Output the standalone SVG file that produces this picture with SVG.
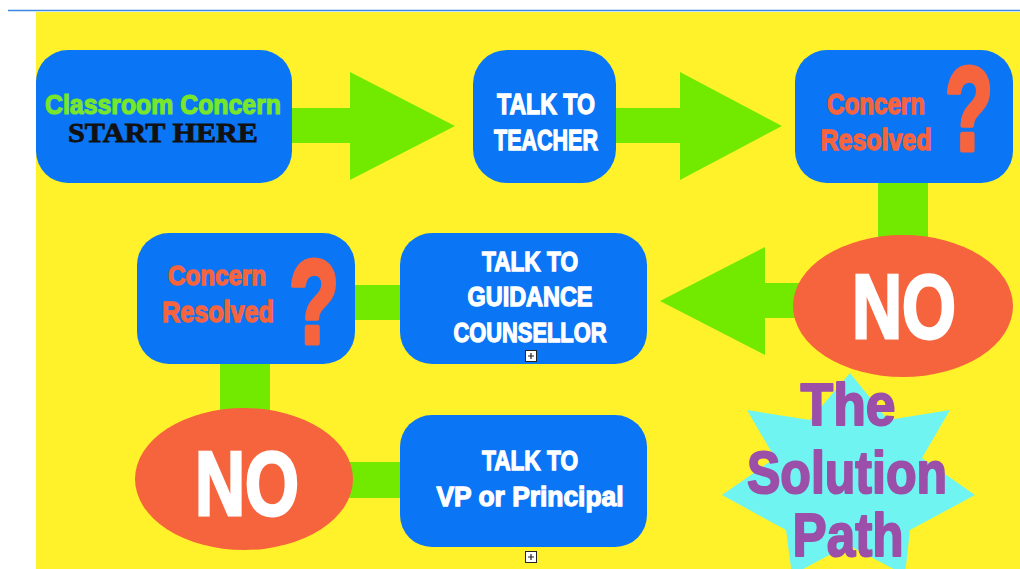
<svg xmlns="http://www.w3.org/2000/svg" width="1020" height="569" viewBox="0 0 1020 569">
<defs>
<style>
.box{fill:#0a75f5}
.oval{fill:#f6643d}
.conn{fill:#72ea00}
.w{fill:#ffffff;stroke:#ffffff;stroke-width:1.3;font-family:"Liberation Sans Narrow","Liberation Sans",sans-serif;font-weight:bold;text-anchor:middle}
.c{fill:#f6643d;stroke:#f6643d;stroke-width:1.3;font-family:"Liberation Sans Narrow","Liberation Sans",sans-serif;font-weight:bold;text-anchor:middle}
.q{fill:#f6643d;stroke:#f6643d;stroke-width:5;stroke-linejoin:round;font-family:"Liberation Sans","DejaVu Sans",sans-serif;font-weight:bold;text-anchor:middle}
.no{fill:#ffffff;stroke:#ffffff;stroke-width:3;font-family:"Liberation Sans","DejaVu Sans",sans-serif;font-weight:bold;text-anchor:middle}
.t{fill:#9b4fa9;stroke:#9b4fa9;stroke-width:2;stroke-linejoin:round;font-family:"Liberation Sans","DejaVu Sans",sans-serif;font-weight:bold;text-anchor:middle}
.icon rect{fill:#ffffff;stroke:#222222;stroke-width:1}
.icon path{stroke:#222222;stroke-width:1.2;fill:none}
</style>
</defs>
<rect x="0" y="0" width="1020" height="569" fill="#ffffff"/>
<rect x="36" y="12" width="984" height="557" fill="#fff22a"/>
<line x1="8" y1="10.5" x2="1020" y2="10.5" stroke="#3a86e0" stroke-width="1.5"/>

<g id="connectors">
<rect class="conn" x="288" y="108" width="64" height="35"/>
<polygon class="conn" points="350,72 455,126 350,180"/>
<rect class="conn" x="612" y="108" width="70" height="35"/>
<polygon class="conn" points="680,72 782,126 680,180"/>
<rect class="conn" x="878" y="178" width="50" height="66"/>
<rect class="conn" x="763" y="283" width="40" height="35"/>
<polygon class="conn" points="765,247 660,301 765,355"/>
<rect class="conn" x="350" y="285" width="54" height="35"/>
<rect class="conn" x="220" y="360" width="50" height="54"/>
<rect class="conn" x="348" y="462" width="56" height="36"/>
</g>

<g id="node-start">
<rect class="box" x="36" y="50" width="256" height="133" rx="32"/>
<text x="163" y="114" textLength="236" lengthAdjust="spacingAndGlyphs" style="fill:#78e62a;stroke:#78e62a;stroke-width:1.2;font-family:'Liberation Sans Narrow','Liberation Sans',sans-serif;font-weight:bold;font-size:27px;text-anchor:middle">Classroom Concern</text>
<text x="163" y="142" textLength="190" lengthAdjust="spacingAndGlyphs" style="fill:#111111;stroke:#111111;stroke-width:0.8;font-family:'Liberation Serif',serif;font-weight:bold;font-size:28px;text-anchor:middle">START HERE</text>
</g>

<g id="node-teacher">
<rect class="box" x="473" y="50" width="143" height="133" rx="34"/>
<text class="w" x="546" y="114" font-size="29" textLength="98" lengthAdjust="spacingAndGlyphs">TALK TO</text>
<text class="w" x="546" y="150" font-size="29" textLength="104" lengthAdjust="spacingAndGlyphs">TEACHER</text>
</g>

<g id="node-resolved-1">
<rect class="box" x="795" y="50" width="218" height="133" rx="32"/>
<text class="c" x="876" y="114" font-size="29" textLength="98" lengthAdjust="spacingAndGlyphs">Concern</text>
<text class="c" x="876" y="150" font-size="29" textLength="111" lengthAdjust="spacingAndGlyphs">Resolved</text>
<text class="q" x="969" y="150" font-size="118" textLength="48" lengthAdjust="spacingAndGlyphs">?</text>
</g>

<g id="node-no-1">
<ellipse class="oval" cx="903" cy="306" rx="110" ry="71"/>
<text class="no" x="904" y="338" font-size="90" textLength="104" lengthAdjust="spacingAndGlyphs">NO</text>
</g>

<g id="node-guidance">
<rect class="box" x="400" y="233" width="247" height="131" rx="32"/>
<text class="w" x="530" y="271" font-size="27" textLength="96" lengthAdjust="spacingAndGlyphs">TALK TO</text>
<text class="w" x="530" y="306" font-size="27" textLength="125" lengthAdjust="spacingAndGlyphs">GUIDANCE</text>
<text class="w" x="530" y="342" font-size="27" textLength="153" lengthAdjust="spacingAndGlyphs">COUNSELLOR</text>
<g class="icon"><rect x="525.5" y="350.5" width="11" height="11"/><path d="M528 356h6M531 353v6"/></g>
</g>

<g id="node-resolved-2">
<rect class="box" x="137" y="233" width="218" height="131" rx="32"/>
<text class="c" x="217" y="285" font-size="27" textLength="98" lengthAdjust="spacingAndGlyphs">Concern</text>
<text class="c" x="218" y="322" font-size="29" textLength="112" lengthAdjust="spacingAndGlyphs">Resolved</text>
<text class="q" x="314" y="343" font-size="118" textLength="50" lengthAdjust="spacingAndGlyphs">?</text>
</g>

<g id="node-no-2">
<ellipse class="oval" cx="244" cy="479" rx="109" ry="71"/>
<text class="no" x="247" y="515" font-size="90" textLength="104" lengthAdjust="spacingAndGlyphs">NO</text>
</g>

<g id="node-vp">
<rect class="box" x="400" y="415" width="247" height="132" rx="32"/>
<text class="w" x="530" y="470" font-size="28" textLength="96" lengthAdjust="spacingAndGlyphs">TALK TO</text>
<text class="w" x="530" y="506" font-size="28" textLength="187" lengthAdjust="spacingAndGlyphs">VP or Principal</text>
<g class="icon"><rect x="525.5" y="551.5" width="11" height="11"/><path d="M528 557h6M531 554v6"/></g>
</g>

<g id="title">
<polygon fill="#6ff4f2" points="850,373 888,420 950,410 922,458 975,495 910,530 905,575 848,545 792,575 786,530 722,495 775,458 747,410 810,420"/>
<text class="t" x="848" y="425" font-size="60" textLength="95" lengthAdjust="spacingAndGlyphs">The</text>
<text class="t" x="847" y="493" font-size="60" textLength="200" lengthAdjust="spacingAndGlyphs">Solution</text>
<text class="t" x="848" y="556" font-size="62" textLength="111" lengthAdjust="spacingAndGlyphs">Path</text>
</g>
</svg>
